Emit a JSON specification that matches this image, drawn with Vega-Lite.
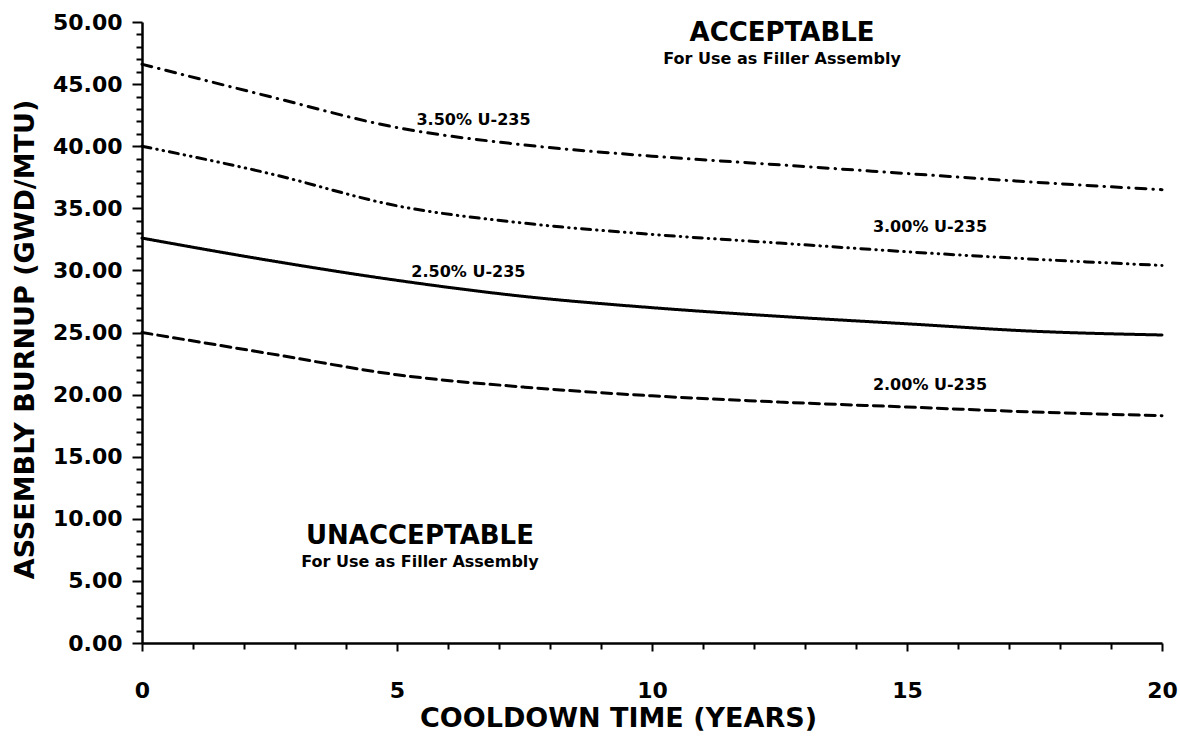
{
  "$schema": "https://vega.github.io/schema/vega-lite/v6.json",
  "width": 1020,
  "height": 621,
  "autosize": "none",
  "padding": {"left": 142, "top": 22, "right": 18, "bottom": 98},
  "background": "white",
  "config": {
    "view": {"stroke": null},
    "font": "DejaVu Sans",
    "axis": {"grid": false, "domainColor": "black", "domainWidth": 2.5, "tickColor": "black", "tickWidth": 2, "labelColor": "black", "titleColor": "black", "labelFont": "DejaVu Sans", "titleFont": "DejaVu Sans", "labelFontWeight": "bold", "titleFontWeight": "bold", "labelFontSize": 22, "titleFontSize": 27, "labelOverlap": false}
  },
  "datasets": {
    "curves": [
      {"enrichment": "3.50% U-235", "years": 0, "burnup": 46.6},
      {"enrichment": "3.50% U-235", "years": 2.5, "burnup": 44.0},
      {"enrichment": "3.50% U-235", "years": 5, "burnup": 41.5},
      {"enrichment": "3.50% U-235", "years": 7.5, "burnup": 40.1},
      {"enrichment": "3.50% U-235", "years": 10, "burnup": 39.2},
      {"enrichment": "3.50% U-235", "years": 12.5, "burnup": 38.5},
      {"enrichment": "3.50% U-235", "years": 15, "burnup": 37.8},
      {"enrichment": "3.50% U-235", "years": 17.5, "burnup": 37.1},
      {"enrichment": "3.50% U-235", "years": 20, "burnup": 36.5},
      {"enrichment": "3.00% U-235", "years": 0, "burnup": 40.0},
      {"enrichment": "3.00% U-235", "years": 2.5, "burnup": 37.8},
      {"enrichment": "3.00% U-235", "years": 5, "burnup": 35.2},
      {"enrichment": "3.00% U-235", "years": 7.5, "burnup": 33.8},
      {"enrichment": "3.00% U-235", "years": 10, "burnup": 32.9},
      {"enrichment": "3.00% U-235", "years": 12.5, "burnup": 32.2},
      {"enrichment": "3.00% U-235", "years": 15, "burnup": 31.5},
      {"enrichment": "3.00% U-235", "years": 17.5, "burnup": 30.9},
      {"enrichment": "3.00% U-235", "years": 20, "burnup": 30.4},
      {"enrichment": "2.50% U-235", "years": 0, "burnup": 32.6},
      {"enrichment": "2.50% U-235", "years": 2.5, "burnup": 30.8},
      {"enrichment": "2.50% U-235", "years": 5, "burnup": 29.2},
      {"enrichment": "2.50% U-235", "years": 7.5, "burnup": 27.9},
      {"enrichment": "2.50% U-235", "years": 10, "burnup": 27.0},
      {"enrichment": "2.50% U-235", "years": 12.5, "burnup": 26.3},
      {"enrichment": "2.50% U-235", "years": 15, "burnup": 25.7},
      {"enrichment": "2.50% U-235", "years": 17.5, "burnup": 25.1},
      {"enrichment": "2.50% U-235", "years": 20, "burnup": 24.8},
      {"enrichment": "2.00% U-235", "years": 0, "burnup": 25.0},
      {"enrichment": "2.00% U-235", "years": 2.5, "burnup": 23.3},
      {"enrichment": "2.00% U-235", "years": 5, "burnup": 21.6},
      {"enrichment": "2.00% U-235", "years": 7.5, "burnup": 20.6},
      {"enrichment": "2.00% U-235", "years": 10, "burnup": 19.9},
      {"enrichment": "2.00% U-235", "years": 12.5, "burnup": 19.4},
      {"enrichment": "2.00% U-235", "years": 15, "burnup": 19.0},
      {"enrichment": "2.00% U-235", "years": 17.5, "burnup": 18.6},
      {"enrichment": "2.00% U-235", "years": 20, "burnup": 18.3}
    ],
    "curveLabels": [
      {"label": "3.50% U-235", "years": 6.5, "burnup": 42.1},
      {"label": "3.00% U-235", "years": 15.45, "burnup": 33.5},
      {"label": "2.50% U-235", "years": 6.4, "burnup": 29.85},
      {"label": "2.00% U-235", "years": 15.45, "burnup": 20.8}
    ],
    "regionTitles": [
      {"label": "ACCEPTABLE", "years": 12.55, "burnup": 49.1},
      {"label": "UNACCEPTABLE", "years": 5.45, "burnup": 8.6}
    ],
    "regionNotes": [
      {"label": "For Use as Filler Assembly", "years": 12.55, "burnup": 47.0},
      {"label": "For Use as Filler Assembly", "years": 5.45, "burnup": 6.5}
    ]
  },
  "layer": [
    {
      "data": {"name": "curves"},
      "mark": {"type": "line", "color": "black", "strokeWidth": 3, "interpolate": "monotone", "strokeCap": "round"},
      "encoding": {
        "x": {
          "field": "years", "type": "quantitative",
          "scale": {"domain": [0, 20], "nice": false, "zero": false},
          "axis": {
            "title": "COOLDOWN TIME (YEARS)",
            "values": [0,1,2,3,4,5,6,7,8,9,10,11,12,13,14,15,16,17,18,19,20],
            "tickCount": 30,
            "labelExpr": "datum.value % 5 === 0 ? format(datum.value, 'd') : ''",
            "tickSize": {"condition": {"test": "datum.value % 5 === 0", "value": 8}, "value": 6},
            "labelPadding": 29,
            "titlePadding": 4,
            "titleX": 476,
            "labelFlush": false
          }
        },
        "y": {
          "field": "burnup", "type": "quantitative",
          "scale": {"domain": [0, 50], "nice": false},
          "axis": {
            "title": "ASSEMBLY BURNUP (GWD/MTU)",
            "values": [0,1,2,3,4,5,6,7,8,9,10,11,12,13,14,15,16,17,18,19,20,21,22,23,24,25,26,27,28,29,30,31,32,33,34,35,36,37,38,39,40,41,42,43,44,45,46,47,48,49,50],
            "tickCount": 60,
            "labelExpr": "datum.value % 5 === 0 ? format(datum.value, '.2f') : ''",
            "tickSize": {"condition": {"test": "datum.value % 5 === 0", "value": 10}, "value": 6},
            "labelPadding": 10,
            "titlePadding": 13,
            "titleY": 317,
            "labelFlush": false
          }
        },
        "detail": {"field": "enrichment", "type": "nominal"},
        "strokeDash": {
          "field": "enrichment", "type": "nominal",
          "scale": {
            "domain": ["3.50% U-235", "3.00% U-235", "2.50% U-235", "2.00% U-235"],
            "range": [[10, 7, 0.5, 7], [9, 6, 0.5, 6, 0.5, 6], [1, 0], [10, 6]]
          },
          "legend": null
        }
      }
    },
    {
      "data": {"name": "curveLabels"},
      "mark": {"type": "text", "font": "DejaVu Sans", "fontWeight": "bold", "fontSize": 16, "color": "black", "align": "center", "baseline": "middle"},
      "encoding": {
        "x": {"field": "years", "type": "quantitative"},
        "y": {"field": "burnup", "type": "quantitative"},
        "text": {"field": "label", "type": "nominal"}
      }
    },
    {
      "data": {"name": "regionTitles"},
      "mark": {"type": "text", "font": "DejaVu Sans", "fontWeight": "bold", "fontSize": 26, "color": "black", "align": "center", "baseline": "middle"},
      "encoding": {
        "x": {"field": "years", "type": "quantitative"},
        "y": {"field": "burnup", "type": "quantitative"},
        "text": {"field": "label", "type": "nominal"}
      }
    },
    {
      "data": {"name": "regionNotes"},
      "mark": {"type": "text", "font": "DejaVu Sans", "fontWeight": "bold", "fontSize": 16, "color": "black", "align": "center", "baseline": "middle"},
      "encoding": {
        "x": {"field": "years", "type": "quantitative"},
        "y": {"field": "burnup", "type": "quantitative"},
        "text": {"field": "label", "type": "nominal"}
      }
    }
  ]
}
